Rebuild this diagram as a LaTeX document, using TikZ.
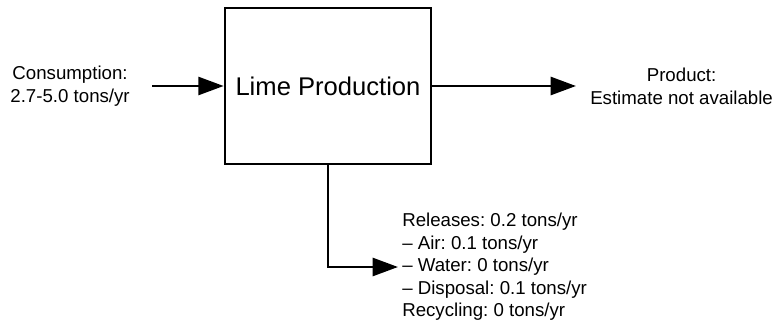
\documentclass[tikz,border=0pt]{standalone}
\usepackage{fontspec}
\setmainfont{Liberation Sans}
\usetikzlibrary{positioning,arrows.meta}
\frenchspacing

\begin{document}
\begin{tikzpicture}[x=0.75pt,y=-0.75pt,
    font=\fontsize{14}{17}\selectfont,
    flow/.style={line width=2pt,-{Triangle[length=19pt,width=13.5pt]}},
    lbl/.style={align=center,inner ysep=0pt}]
    \useasboundingbox (0,0) rectangle (774,324);
    \node[draw,line width=2pt,minimum width=154.5pt,minimum height=117pt,inner sep=0pt,
      font=\fontsize{19.2}{23}\selectfont] (lime) at (328,86) {Lime Production};
    \node[lbl,anchor=east,inner xsep=16.5pt] (cons) at (152,86) {Consumption:\\2.7-5.0 tons/yr};
    \node[lbl,anchor=west,inner xsep=10.5pt] (prod) at (576,86) {Product:\\Estimate not available};
    \node[lbl,align=left,anchor=west,inner xsep=3pt,
      font=\fontsize{14}{16.9}\selectfont] (rel) at (398,267)
      {Releases: 0.2 tons/yr\\\textendash{} Air: 0.1 tons/yr\\\textendash{} Water: 0 tons/yr\\\textendash{} Disposal: 0.1 tons/yr\\Recycling: 0 tons/yr};
    \draw[flow] (cons.east) -- (lime.west);
    \draw[flow] (lime.east) -- (prod.west);
    \draw[flow] (lime.south) |- (rel.west);
  \end{tikzpicture}
\end{document}
